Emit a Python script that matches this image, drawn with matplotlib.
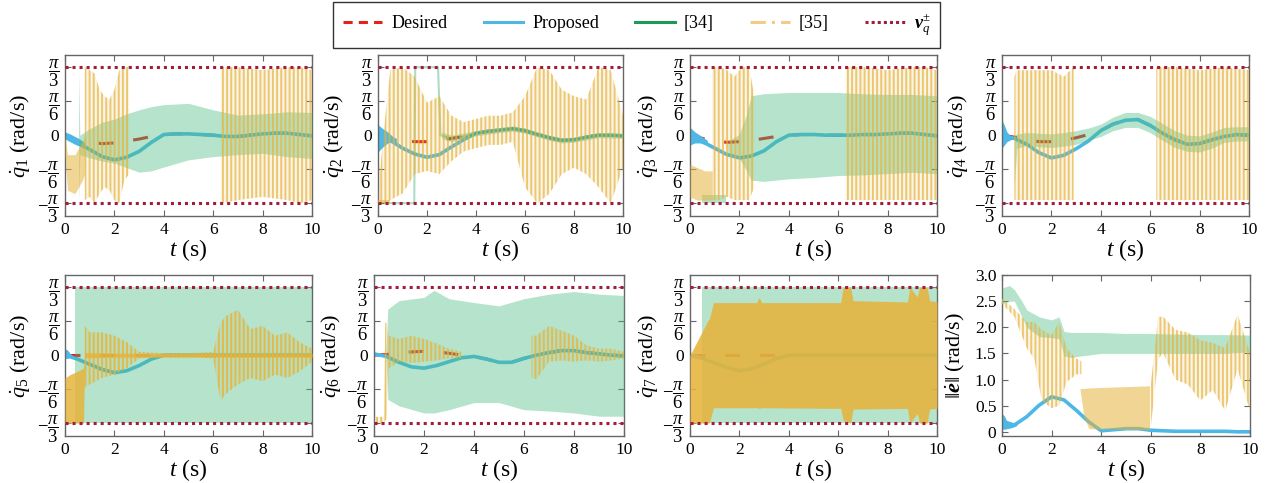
import numpy as np
import matplotlib
matplotlib.use("Agg")
import matplotlib.pyplot as plt
from matplotlib.lines import Line2D

plt.rcParams.update({
    "font.family": ["Liberation Serif", "DejaVu Serif"],
    "mathtext.fontset": "custom",
    "mathtext.rm": "Liberation Serif",
    "mathtext.it": "Liberation Serif:italic",
    "mathtext.bf": "Liberation Serif:bold:italic",
    "hatch.linewidth": 1.4,
})

nan = np.nan
BOUND = np.pi / 3

# ---------------- data ----------------
T = [0, 0.5, 1, 1.5, 2, 2.5, 3, 3.5, 4, 4.5, 5, 5.5, 6, 6.5, 7, 7.5, 8, 8.5, 9, 9.5, 10]

# joint 1
q1_des = [0, -0.08, -0.11, -0.13, -0.12, -0.09, -0.06, -0.02, 0.01, 0.02, 0.02, 0.01, 0.0, -0.02, -0.02, 0.0, 0.02, 0.03, 0.03, 0.01, -0.01]
q1_prop = [0, -0.12, -0.22, -0.33, -0.38, -0.34, -0.25, -0.11, 0.01, 0.02, 0.02, 0.01, 0.0, -0.02, -0.02, 0.0, 0.02, 0.03, 0.03, 0.01, -0.01]
q1_chat_t = [0, 0.2, 0.4, 0.6, 0.8]
q1_chat_hi = [0.05, 0.02, -0.02, -0.06, -0.12]
q1_chat_lo = [-0.06, -0.1, -0.14, -0.17, -0.2]
q1_b34_t = [0.55, 0.6, 1, 1.5, 2, 2.5, 3, 3.5, 4, 5, 6, 7, 8, 9, 10]
q1_b34_hi = [1.0, 0.0, 0.1, 0.2, 0.25, 0.33, 0.39, 0.44, 0.47, 0.49, 0.39, 0.31, 0.33, 0.36, 0.35]
q1_b34_lo = [-1.0, -0.3, -0.35, -0.4, -0.43, -0.5, -0.57, -0.55, -0.49, -0.38, -0.33, -0.30, -0.28, -0.33, -0.36]
q1_d35_t = [0, 0.1, 0.4, 0.7, 0.8]
q1_d35_hi = [0.0, -0.3, -0.3, -0.1, 0.0]
q1_d35_lo = [-0.3, -0.85, -0.9, -0.7, -0.6]
q1_s35_t = [0.8, 1.0, 1.2, 1.4, 1.6, 1.8, 2.0, 2.2, 2.4, 2.6, 2.7, 6.2, 6.3, 7, 8, 9, 9.5, 10]
q1_s35_hi = [1.05, 1.0, 0.95, 0.7, 0.6, 0.55, 0.7, 1.0, 1.05, 1.05, nan, nan, 1.05, 1.05, 1.0, 1.05, 1.05, 1.0]
q1_s35_lo = [-1.0, -0.95, -1.05, -0.9, -0.8, -0.85, -1.0, -1.05, -0.7, -0.6, nan, nan, -1.05, -1.0, -0.95, -1.0, -1.05, -1.0]

# joint 2
q2_des = [0, -0.06, -0.08, -0.1, -0.1, -0.08, -0.05, -0.02, 0.03, 0.06, 0.08, 0.1, 0.07, 0.01, -0.04, -0.08, -0.07, -0.03, 0.0, 0.0, -0.01]
q2_prop = [0, -0.08, -0.2, -0.29, -0.34, -0.3, -0.18, -0.07, 0.03, 0.06, 0.08, 0.1, 0.07, 0.01, -0.04, -0.08, -0.07, -0.03, 0.0, 0.0, -0.01]
q2_chat_t = [0, 0.2, 0.4, 0.6, 0.75]
q2_chat_hi = [0.16, 0.1, 0.05, -0.02, -0.05]
q2_chat_lo = [-0.26, -0.18, -0.12, -0.1, -0.1]
q2_g34_t = [0, 1.48, 1.52, 2.45, 2.55, 3.0, 3.5, 4, 5, 5.5, 6, 7, 7.5, 8, 9, 10]
q2_g34 = [-1.047, -1.047, 1.047, 1.047, 0.0, -0.05, -0.02, 0.03, 0.08, 0.1, 0.07, -0.04, -0.08, -0.07, 0.0, -0.01]
q2_b34_t = [2.6, 3, 4, 5, 5.5, 6, 7, 7.5, 8, 9, 10]
q2_b34_hi = [0.05, 0.0, 0.07, 0.12, 0.14, 0.11, 0.0, -0.04, -0.03, 0.04, 0.03]
q2_b34_lo = [-0.05, -0.1, -0.01, 0.04, 0.06, 0.03, -0.08, -0.12, -0.11, -0.04, -0.05]
q2_d35_t = [0, 0.5]
q2_d35_hi = [-1.0, -1.0]
q2_d35_lo = [-1.047, -1.047]
q2_s35_t = [0, 0.3, 0.5, 1.0, 1.5, 2.0, 2.5, 3.0, 3.5, 4.0, 4.5, 5.0, 5.5, 6.0, 6.5, 7.0, 7.5, 8.0, 8.5, 9.0, 9.5, 10]
q2_s35_hi = [-0.9, 0.3, 1.0, 1.05, 0.9, 0.5, 0.6, 0.3, 0.2, 0.25, 0.3, 0.3, 0.35, 0.6, 1.05, 1.0, 0.7, 0.6, 0.55, 1.05, 1.0, 0.3]
q2_s35_lo = [-1.05, -1.05, -1.0, -0.9, -0.6, -0.55, -0.6, -0.4, -0.25, -0.2, -0.15, -0.15, -0.1, -0.8, -1.05, -0.9, -0.6, -0.5, -0.6, -0.8, -1.05, -0.5]

# joint 3
q3_des = [0, -0.05, -0.09, -0.11, -0.1, -0.08, -0.05, -0.02, 0.0, 0.01, 0.01, 0.0, 0.0, 0.0, 0.01, 0.01, 0.02, 0.03, 0.03, 0.01, -0.01]
q3_prop = [0, -0.1, -0.2, -0.3, -0.35, -0.32, -0.24, -0.1, 0.0, 0.01, 0.01, 0.0, 0.0, 0.0, 0.01, 0.01, 0.02, 0.03, 0.03, 0.01, -0.01]
q3_chat_t = [0, 0.2, 0.4, 0.7]
q3_chat_hi = [0.12, 0.05, 0.0, -0.08]
q3_chat_lo = [-0.15, -0.12, -0.12, -0.15]
q3_b34_t = [0.5, 1.45, 1.5, 1.55, 2.0, 2.3, 2.5, 3, 4, 5, 6, 7, 8, 9, 10]
q3_b34_hi = [-0.92, -0.92, nan, -0.1, 0.0, 0.3, 0.6, 0.63, 0.65, 0.65, 0.65, 0.63, 0.62, 0.62, 0.6]
q3_b34_lo = [-1.05, -1.05, nan, -0.3, -0.35, -0.55, -0.7, -0.72, -0.68, -0.66, -0.63, -0.62, -0.6, -0.58, -0.6]
q3_d35_t = [0, 0.3, 0.6, 0.9]
q3_d35_hi = [-0.45, -0.5, -0.55, -0.55]
q3_d35_lo = [-0.95, -1.0, -1.0, -1.0]
q3_s35_t = [0.9, 1.2, 1.5, 1.8, 2.1, 2.4, 2.6, 2.7, 6.2, 6.3, 7, 8, 9, 9.5, 10]
q3_s35_hi = [1.05, 1.05, 1.0, 0.9, 1.05, 1.05, 0.6, nan, nan, 1.05, 1.05, 1.0, 1.05, 1.05, 1.0]
q3_s35_lo = [-1.0, -1.0, -0.95, -1.0, -1.0, -1.0, -0.8, nan, nan, -1.0, -1.0, -1.0, -1.0, -1.0, -1.0]

# joint 4
q4_des = [0, -0.03, -0.07, -0.1, -0.1, -0.08, -0.04, 0.01, 0.07, 0.17, 0.23, 0.24, 0.15, 0.03, -0.07, -0.14, -0.13, -0.07, -0.02, 0.01, 0.0]
q4_prop = [0, -0.05, -0.14, -0.27, -0.35, -0.31, -0.21, -0.09, 0.07, 0.17, 0.23, 0.24, 0.15, 0.03, -0.07, -0.14, -0.13, -0.07, -0.02, 0.01, 0.0]
q4_chat_t = [0, 0.1, 0.2, 0.35, 0.5]
q4_chat_hi = [0.23, 0.15, 0.05, -0.02, -0.04]
q4_chat_lo = [-0.2, -0.15, -0.1, -0.07, -0.06]
q4_b34_t = [0.5, 0.6, 1, 1.5, 2, 2.5, 3, 3.5, 4, 4.5, 5, 5.5, 6, 6.5, 7, 7.5, 8, 8.5, 9, 9.5, 10]
q4_b34_hi = [0.0, 0.02, 0.04, 0.03, 0.02, 0.04, 0.07, 0.11, 0.17, 0.28, 0.35, 0.35, 0.29, 0.18, 0.07, 0.0, -0.01, 0.05, 0.12, 0.13, 0.13]
q4_b34_lo = [-0.77, -0.2, -0.16, -0.18, -0.19, -0.17, -0.14, -0.08, -0.02, 0.07, 0.12, 0.12, 0.04, -0.08, -0.19, -0.25, -0.26, -0.2, -0.11, -0.09, -0.09]
q4_s35_t = [0.5, 0.6, 1, 1.5, 2, 2.5, 2.9, 3.0, 6.1, 6.25, 7, 8, 9, 10]
q4_s35_hi = [0.9, 1.0, 1.0, 1.0, 1.0, 0.9, 1.05, nan, nan, 1.05, 1.05, 1.0, 1.05, 1.0]
q4_s35_lo = [-1.0, -1.0, -1.0, -1.0, -1.0, -1.0, -1.0, nan, nan, -1.0, -1.0, -1.0, -1.0, -1.0]

# joint 5
q5_des = [0] * 21
q5_prop = [0, -0.06, -0.14, -0.22, -0.27, -0.24, -0.16, -0.06, 0.0, 0, 0, 0, 0, 0, 0, 0, 0, 0, 0, 0, 0]
q5_chat_t = [0, 0.1, 0.2, 0.3]
q5_chat_hi = [0.1, 0.08, 0.03, 0.0]
q5_chat_lo = [-0.05, -0.05, -0.03, -0.02]
q5_b34_t = [0.42, 10]
q5_b34_hi = [1.047, 1.047]
q5_b34_lo = [-1.047, -1.047]
q5_d35_t = [0, 0.2, 0.5, 0.75, 0.8, 2.0, 4.0, 6.0, 8.0, 10]
q5_d35_hi = [-0.35, -0.3, -0.25, -0.2, 0.04, 0.03, 0.03, 0.03, 0.03, 0.03]
q5_d35_lo = [-1.047, -1.047, -1.047, -1.047, -0.04, -0.03, -0.03, -0.03, -0.03, -0.03]
q5_s35_t = [0.8, 1, 1.5, 2, 2.5, 3, 3.5, 4, 5, 6, 6.3, 6.5, 7, 7.5, 8, 8.5, 9, 9.5, 10]
q5_s35_hi = [0.45, 0.35, 0.35, 0.3, 0.2, 0.05, 0.04, 0.03, 0.03, 0.05, 0.5, 0.6, 0.7, 0.4, 0.45, 0.3, 0.35, 0.2, 0.1]
q5_s35_lo = [-0.5, -0.45, -0.35, -0.3, -0.2, -0.05, -0.04, -0.03, -0.03, -0.05, -0.7, -0.6, -0.45, -0.35, -0.4, -0.3, -0.35, -0.25, -0.1]

# joint 6
q6_des = [0, 0.01, 0.04, 0.05, 0.06, 0.05, 0.03, 0.0, -0.02, -0.06, -0.11, -0.11, -0.05, 0.0, 0.04, 0.07, 0.07, 0.04, 0.02, 0.0, -0.01]
q6_prop = [0.02, -0.02, -0.11, -0.18, -0.2, -0.16, -0.1, -0.04, -0.02, -0.06, -0.11, -0.11, -0.05, 0.0, 0.04, 0.07, 0.07, 0.04, 0.02, 0.0, -0.01]
q6_b34_t = [0.48, 0.55, 1, 2, 2.4, 3, 4, 5, 6, 7, 8, 9, 10]
q6_b34_hi = [0.0, 0.71, 0.84, 0.89, 1.0, 0.87, 0.81, 0.76, 0.87, 0.94, 0.98, 0.94, 0.92]
q6_b34_lo = [0.0, -0.68, -0.78, -0.89, -0.89, -0.84, -0.73, -0.73, -0.84, -0.86, -0.89, -0.94, -0.94]
q6_s35_t = [0.0, 0.4, 0.45, 0.5, 0.6, 1, 1.5, 2, 2.5, 3, 3.5, 3.6, 6.2, 6.3, 6.5, 7, 7.5, 8, 8.5, 9, 9.5, 10]
q6_s35_hi = [-0.95, -0.95, 0.5, 0.5, 0.3, 0.25, 0.3, 0.25, 0.18, 0.1, 0.05, nan, nan, 0.3, 0.3, 0.45, 0.38, 0.3, 0.15, 0.1, 0.1, 0.05]
q6_s35_lo = [-1.047, -1.047, -1.0, -1.0, -0.2, -0.1, -0.12, -0.1, -0.08, -0.05, -0.05, nan, nan, -0.35, -0.37, -0.1, -0.08, -0.1, -0.08, -0.1, -0.08, -0.05]

# joint 7
q7_des = [0] * 21
q7_prop = [0, -0.05, -0.12, -0.19, -0.24, -0.21, -0.14, -0.05, 0.0, 0, 0, 0, 0, 0, 0, 0, 0, 0, 0, 0, 0]
q7_chat_t = [0, 0.15, 0.3]
q7_chat_hi = [0.03, 0.02, 0.01]
q7_chat_lo = [-0.03, -0.02, -0.01]
q7_b34_t = [0.47, 10]
q7_b34_hi = [1.047, 1.047]
q7_b34_lo = [-1.047, -1.047]
q7_d35_t = [0, 0.75, 0.78, 0.95, 2.7, 2.8, 2.9, 6.1, 6.2, 6.5, 6.6, 8.8, 8.9, 9.2, 9.3, 9.6, 9.7, 10]
q7_d35_hi = [0.0, 0.55, 0.55, 0.81, 0.81, 0.89, 0.81, 0.81, 1.047, 1.047, 0.84, 0.82, 1.047, 0.9, 1.047, 1.047, 0.84, 0.82]
q7_d35_lo = [-1.047, -1.047, -1.047, -0.81, -0.81, -0.82, -0.81, -0.82, -1.0, -1.047, -0.83, -0.82, -1.047, -0.9, -1.047, -1.047, -0.83, -0.82]

# error norm
e_prop = [0.2, 0.13, 0.29, 0.51, 0.67, 0.61, 0.41, 0.19, 0.02, 0.04, 0.06, 0.06, 0.03, 0.02, 0.01, 0.01, 0.01, 0.01, 0.01, 0.0, 0.0]
e_chat_t = [0, 0.1, 0.2, 0.4, 0.6]
e_chat_hi = [0.35, 0.3, 0.2, 0.15, 0.16]
e_chat_lo = [0.05, 0.05, 0.06, 0.08, 0.12]
e_b34_t = [0, 0.3, 0.5, 0.8, 1, 1.5, 2, 2.3, 2.5, 2.8, 3, 4, 5, 6, 7, 8, 9, 10]
e_b34_hi = [2.75, 2.8, 2.72, 2.5, 2.33, 2.2, 2.14, 2.2, 1.92, 1.9, 1.9, 1.9, 1.88, 1.88, 1.87, 1.86, 1.86, 1.85]
e_b34_lo = [2.45, 2.5, 2.5, 2.2, 2.0, 1.82, 1.8, 1.78, 1.45, 1.42, 1.44, 1.5, 1.5, 1.5, 1.5, 1.5, 1.5, 1.53]
e_d35_t = [3.15, 3.3, 3.5, 5.95]
e_d35_hi = [0.83, 0.83, 0.84, 0.88]
e_d35_lo = [0.8, 0.3, 0.06, 0.04]
e_s35_t = [0, 0.5, 1, 1.3, 1.6, 2, 2.3, 2.6, 3, 3.2, 3.25, 5.9, 6.0, 6.3, 6.5, 7, 7.5, 8, 8.5, 9, 9.5, 10]
e_s35_hi = [2.55, 2.35, 2.1, 2.1, 1.95, 1.85, 2.1, 1.6, 1.4, 1.35, nan, nan, 0.9, 2.2, 2.2, 1.95, 1.9, 1.75, 1.7, 1.6, 2.25, 1.5]
e_s35_lo = [2.45, 2.2, 1.6, 1.4, 0.6, 0.45, 0.5, 0.95, 1.1, 1.1, nan, nan, 0.1, 1.4, 1.5, 1.0, 0.9, 0.6, 0.8, 0.4, 1.2, 0.4]

legend_labels = ["Desired", "Proposed", "[34]", "[35]", r"$\mathbf{\nu}_{q}^{\pm}$"]
q_ticks = [-BOUND, -BOUND / 2, 0, BOUND / 2, BOUND]
q_ticklabels = [r"$-\dfrac{\pi}{3}$", r"$-\dfrac{\pi}{6}$", "0", r"$\dfrac{\pi}{6}$", r"$\dfrac{\pi}{3}$"]
e_ticks = [0, 0.5, 1.0, 1.5, 2.0, 2.5, 3.0]
e_ticklabels = ["0", "0.5", "1.0", "1.5", "2.0", "2.5", "3.0"]
x_ticks = [0, 2, 4, 6, 8, 10]

# ---------------- style ----------------
C_DES = "#e3221c"
C_PROP = "#4db8e6"
C_34 = "#1e9a52"
C_34BAND = "#46bb7f"
C_35 = "#e6b43c"
C_35LEG = "#f0cc88"
C_BND = "#a11d3b"
C_SPINE = "#666666"

W, H = 1268, 483
fig = plt.figure(figsize=(W / 100, H / 100), dpi=100)

def box(l, t, r, b):
    return [l / W, 1 - b / H, (r - l) / W, (b - t) / H]

boxes = [
    box(65, 55, 312, 216), box(378, 55, 623, 216), box(690, 55, 937, 216), box(1002, 55, 1249, 216),
    box(65, 275, 312, 436), box(374, 275, 624, 436), box(690, 275, 937, 436), box(1002, 275, 1250, 436),
]
label_x = [-0.134, -0.13, -0.122, -0.13, -0.134, -0.124, -0.122, -0.14]

panels = [
    dict(des=q1_des, prop=q1_prop, chat=(q1_chat_t, q1_chat_lo, q1_chat_hi),
         b34=(q1_b34_t, q1_b34_lo, q1_b34_hi), g34=None,
         d35=(q1_d35_t, q1_d35_lo, q1_d35_hi), s35=(q1_s35_t, q1_s35_lo, q1_s35_hi), da=0.55, sa=0.7),
    dict(des=q2_des, prop=q2_prop, chat=(q2_chat_t, q2_chat_lo, q2_chat_hi),
         b34=(q2_b34_t, q2_b34_lo, q2_b34_hi), g34=(q2_g34_t, q2_g34),
         d35=(q2_d35_t, q2_d35_lo, q2_d35_hi), s35=(q2_s35_t, q2_s35_lo, q2_s35_hi), da=0.55, sa=0.7),
    dict(des=q3_des, prop=q3_prop, chat=(q3_chat_t, q3_chat_lo, q3_chat_hi),
         b34=(q3_b34_t, q3_b34_lo, q3_b34_hi), g34=None,
         d35=(q3_d35_t, q3_d35_lo, q3_d35_hi), s35=(q3_s35_t, q3_s35_lo, q3_s35_hi), da=0.55, sa=0.7),
    dict(des=q4_des, prop=q4_prop, chat=(q4_chat_t, q4_chat_lo, q4_chat_hi),
         b34=(q4_b34_t, q4_b34_lo, q4_b34_hi), g34=None,
         d35=None, s35=(q4_s35_t, q4_s35_lo, q4_s35_hi), da=0.55, sa=0.7),
    dict(des=q5_des, prop=q5_prop, chat=(q5_chat_t, q5_chat_lo, q5_chat_hi),
         b34=(q5_b34_t, q5_b34_lo, q5_b34_hi), g34=None,
         d35=(q5_d35_t, q5_d35_lo, q5_d35_hi), s35=(q5_s35_t, q5_s35_lo, q5_s35_hi), da=0.85, sa=0.85),
    dict(des=q6_des, prop=q6_prop, chat=None,
         b34=(q6_b34_t, q6_b34_lo, q6_b34_hi), g34=None,
         d35=None, s35=(q6_s35_t, q6_s35_lo, q6_s35_hi), da=0.55, sa=0.75),
    dict(des=q7_des, prop=q7_prop, chat=(q7_chat_t, q7_chat_lo, q7_chat_hi),
         b34=(q7_b34_t, q7_b34_lo, q7_b34_hi), g34=None,
         d35=(q7_d35_t, q7_d35_lo, q7_d35_hi), s35=None, da=0.88, sa=0.8),
    dict(des=None, prop=e_prop, chat=(e_chat_t, e_chat_lo, e_chat_hi),
         b34=(e_b34_t, e_b34_lo, e_b34_hi), g34=None,
         d35=(e_d35_t, e_d35_lo, e_d35_hi), s35=(e_s35_t, e_s35_lo, e_s35_hi), da=0.55, sa=0.7),
]

for i, (p, bx) in enumerate(zip(panels, boxes)):
    ax = fig.add_axes(bx)
    if p["des"] is not None:
        ax.plot(T, p["des"], color=C_DES, lw=2.2, ls=(0, (4.9, 6.5)), zorder=2)
    ax.plot(T, p["prop"], color=C_PROP, lw=2.6, zorder=2.1)
    if p["chat"] is not None:
        ct, clo, chi = p["chat"]
        ax.fill_between(ct, clo, chi, color=C_PROP, lw=0, zorder=2.1)
    bt, blo, bhi = p["b34"]
    ax.fill_between(bt, blo, bhi, color=C_34BAND, alpha=0.4, lw=0, zorder=3)
    if p["g34"] is not None:
        gt, gv = p["g34"]
        ax.plot(gt, gv, color=C_34, lw=1.5, alpha=0.35, zorder=3.1)
    if p["d35"] is not None:
        dt, dlo, dhi = p["d35"]
        ax.fill_between(dt, dlo, dhi, color=C_35, alpha=p["da"], lw=0, zorder=4)
    if p["s35"] is not None:
        st, slo, shi = p["s35"]
        ax.fill_between(st, slo, shi, facecolor=matplotlib.colors.to_rgba(C_35, 0.12),
                        edgecolor=matplotlib.colors.to_rgba(C_35, p["sa"]),
                        hatch="||||", lw=0, zorder=4)
    ax.set_xlim(0, 10)
    ax.set_xticks(x_ticks)
    ax.tick_params(direction="in", top=True, right=True, length=4, width=0.8,
                   color=C_SPINE, labelsize=12.5, pad=4)
    if i < 7:
        ax.axhline(BOUND, color=C_BND, lw=2.2, ls=(0, (1, 1.3)), zorder=5)
        ax.axhline(-BOUND, color=C_BND, lw=2.2, ls=(0, (1, 1.3)), zorder=5)
        ax.set_ylim(-1.245, 1.235)
        ax.set_yticks(q_ticks)
        ax.set_yticklabels(q_ticklabels)
        for lbl in ax.get_yticklabels():
            if lbl.get_text() != "0":
                lbl.set_fontsize(13.5)
        ax.set_ylabel(r"$\dot{q}_{%d}$ (rad/s)" % (i + 1), fontsize=16)
    else:
        ax.set_ylim(-0.08, 3.0)
        ax.set_yticks(e_ticks)
        ax.set_yticklabels(e_ticklabels)
        ax.set_ylabel(r"$\Vert\dot{\mathbf{e}}\Vert$ (rad/s)", fontsize=16)
    ax.yaxis.set_label_coords(label_x[i], 0.5)
    ax.set_xlabel(r"$t$ (s)", fontsize=17, labelpad=0)
    for s in ax.spines.values():
        s.set_color(C_SPINE)
        s.set_linewidth(1.0)

handles = [
    Line2D([], [], color=C_DES, lw=2.2, ls=(0, (3, 2))),
    Line2D([], [], color=C_PROP, lw=2.2),
    Line2D([], [], color=C_34, lw=2.2),
    Line2D([], [], color=C_35LEG, lw=2.2, ls=(0, (5, 2, 1, 2))),
    Line2D([], [], color=C_BND, lw=2.2, ls=(0, (1, 1))),
]
leg = fig.legend(handles, legend_labels, loc="upper center", ncol=5,
                 bbox_to_anchor=(636.5 / W, 1 - 2 / H), frameon=True, fancybox=False,
                 edgecolor="black", fontsize=13, handlelength=2.2, columnspacing=2.0,
                 handletextpad=0.5, borderpad=0.55, borderaxespad=0)
leg.get_frame().set_linewidth(1.0)

fig.savefig("out.png", dpi=100)
